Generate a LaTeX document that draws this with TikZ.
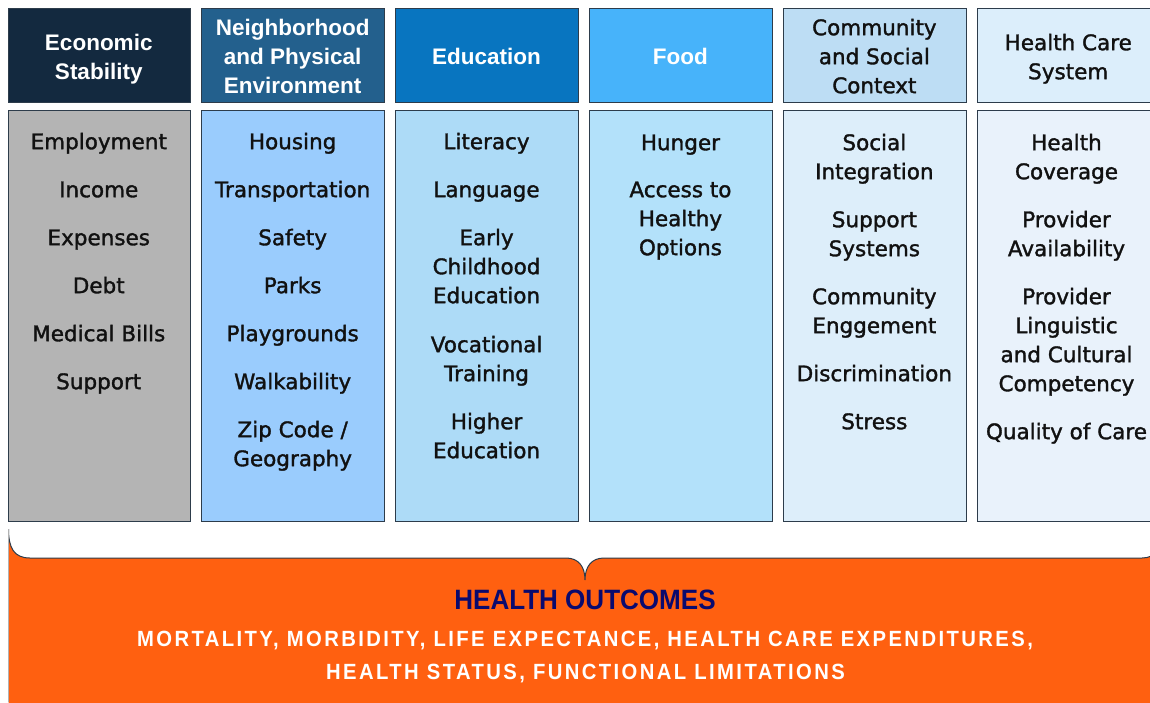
\documentclass[tikz,border=0pt]{standalone}
\usepackage{fontspec}
\setmainfont{DejaVu Sans}
\newfontfamily\medfam{DejaVu Sans}[FakeBold=1.5]
\newfontfamily\hdfontfam{Liberation Sans}
\newfontfamily\outfontfam{Liberation Sans}[FakeStretch=0.93]
\newfontfamily\subfontfam{Liberation Sans}[FakeStretch=0.92,LetterSpace=11]
\newcommand\bodyfont{\medfam\fontsize{21.5}{29}\selectfont}
\newcommand\hdfont{\hdfontfam\bfseries\fontsize{22.5}{29}\selectfont}
\definecolor{hA}{RGB}{19,41,63}
\definecolor{hB}{RGB}{35,96,141}
\definecolor{hC}{RGB}{8,117,192}
\definecolor{hD}{RGB}{71,179,250}
\definecolor{hE}{RGB}{189,221,244}
\definecolor{hF}{RGB}{220,238,251}
\definecolor{bA}{RGB}{180,180,180}
\definecolor{bB}{RGB}{154,204,253}
\definecolor{bC}{RGB}{173,219,247}
\definecolor{bD}{RGB}{179,225,250}
\definecolor{bE}{RGB}{221,238,250}
\definecolor{bF}{RGB}{233,242,251}
\definecolor{edge}{RGB}{45,60,75}
\definecolor{ink}{RGB}{17,17,17}
\definecolor{orng}{RGB}{255,96,16}
\definecolor{navy}{RGB}{10,10,110}
\begin{document}
\begin{tikzpicture}[x=1pt,y=-1pt,
  hbox/.style={draw=edge, line width=0.9pt, minimum width=182.5pt, minimum height=94pt, inner sep=0, anchor=north west},
  bbox/.style={draw=edge, line width=0.9pt, minimum width=182.5pt, minimum height=411.5pt, inner sep=0, anchor=north west},
  item/.style={anchor=north, inner sep=0, align=center, text=ink, font=\bodyfont, yshift=12.3pt},
  htext/.style={item, text=white, font=\hdfont},
  hdark/.style={item}]
\useasboundingbox (0,0) rectangle (1150,702);
\clip (0,0) rectangle (1150,702);
\fill[white] (0,0) rectangle (1150,702);

% header boxes
\node[hbox, fill=hA] (h1) at (7.5,7.5) {};
\node[hbox, fill=hB] (h2) at (201.4,7.5) {};
\node[hbox, fill=hC] (h3) at (395.3,7.5) {};
\node[hbox, fill=hD] (h4) at (589.2,7.5) {};
\node[hbox, fill=hE] (h5) at (783.1,7.5) {};
\node[hbox, fill=hF] (h6) at (977,7.5) {};
% body boxes
\node[bbox, fill=bA] (b1) at (7.5,109.5) {};
\node[bbox, fill=bB] (b2) at (201.4,109.5) {};
\node[bbox, fill=bC] (b3) at (395.3,109.5) {};
\node[bbox, fill=bD] (b4) at (589.2,109.5) {};
\node[bbox, fill=bE] (b5) at (783.1,109.5) {};
\node[bbox, fill=bF] (b6) at (977,109.5) {};

% header texts
\node[htext] (h1t) at (98.75,42) {\strut Economic\\Stability};
\node[htext] (h2t) at (292.65,27) {\strut Neighborhood\\and Physical\\Environment};
\node[htext] (h3t) at (486.55,56) {\strut Education};
\node[htext] (h4t) at (680.45,56) {\strut Food};
\node[hdark] (h5t) at (874.35,27) {\strut Community\\and Social\\Context};
\node[hdark] (h6t) at (1068.25,42) {\strut Health Care\\System};

% column 1
\node[item] (c1a) at (98.75,141) {\strut Employment};
\node[item] (c1b) at (98.75,189) {\strut Income};
\node[item] (c1c) at (98.75,237) {\strut Expenses};
\node[item] (c1d) at (98.75,285) {\strut Debt};
\node[item] (c1e) at (98.75,333) {\strut Medical Bills};
\node[item] (c1f) at (98.75,381) {\strut Support};
% column 2
\node[item] (c2a) at (292.65,141) {\strut Housing};
\node[item] (c2b) at (292.65,189) {\strut Transportation};
\node[item] (c2c) at (292.65,237) {\strut Safety};
\node[item] (c2d) at (292.65,285) {\strut Parks};
\node[item] (c2e) at (292.65,333) {\strut Playgrounds};
\node[item] (c2f) at (292.65,381) {\strut Walkability};
\node[item] (c2g) at (292.65,429) {\strut Zip Code /\\Geography};
% column 3
\node[item] (c3a) at (486.55,141) {\strut Literacy};
\node[item] (c3b) at (486.55,189) {\strut Language};
\node[item] (c3c) at (486.55,237) {\strut Early\\Childhood\\Education};
\node[item] (c3d) at (486.55,344) {\strut Vocational\\Training};
\node[item] (c3e) at (486.55,421) {\strut Higher\\Education};
% column 4
\node[item] (c4a) at (680.45,142) {\strut Hunger};
\node[item] (c4b) at (680.45,189) {\strut Access to\\Healthy\\Options};
% column 5
\node[item] (c5a) at (874.35,142) {\strut Social\\Integration};
\node[item] (c5b) at (874.35,219) {\strut Support\\Systems};
\node[item] (c5c) at (874.35,296) {\strut Community\\Enggement};
\node[item] (c5d) at (874.35,373) {\strut Discrimination};
\node[item] (c5e) at (874.35,421) {\strut Stress};
% column 6
\node[item] (c6a) at (1066.5,142) {\strut Health\\Coverage};
\node[item] (c6b) at (1066.5,219) {\strut Provider\\Availability};
\node[item] (c6c) at (1066.5,296) {\strut Provider\\Linguistic\\and Cultural\\Competency};
\node[item] (c6d) at (1066.5,431) {\strut Quality of Care};

% outcomes brace panel
\fill[orng] (8.5,529) .. controls (8.5,548) and (14,558) .. (30,558) -- (566,558)
  .. controls (578,558) and (585,566) .. (585,580)
  .. controls (585,566) and (592,558) .. (604,558) -- (1142,558)
  .. controls (1156,558) and (1162,548) .. (1162,529) -- (1162,710) -- (8.5,710) -- cycle;
\draw[edge, line width=1pt] (8.5,529) .. controls (8.5,548) and (14,558) .. (30,558) -- (566,558)
  .. controls (578,558) and (585,566) .. (585,580)
  .. controls (585,566) and (592,558) .. (604,558) -- (1142,558)
  .. controls (1156,558) and (1162,548) .. (1162,529);
\draw[gray!60, line width=0.8pt] (8.5,529) -- (8.5,702);

\node[anchor=base, inner sep=0, text=navy, font=\outfontfam\bfseries\fontsize{28}{30}\selectfont] (ttl) at (585,609.5) {HEALTH OUTCOMES};
\node[anchor=base, inner sep=0, text=white, font=\subfontfam\bfseries\fontsize{22}{30}\selectfont] (sub1) at (585,646) {MORTALITY, MORBIDITY, LIFE EXPECTANCE, HEALTH CARE EXPENDITURES,};
\node[anchor=base, inner sep=0, text=white, font=\subfontfam\bfseries\fontsize{22}{30}\selectfont] (sub2) at (585.5,679) {HEALTH STATUS, FUNCTIONAL LIMITATIONS};
\end{tikzpicture}
\end{document}
